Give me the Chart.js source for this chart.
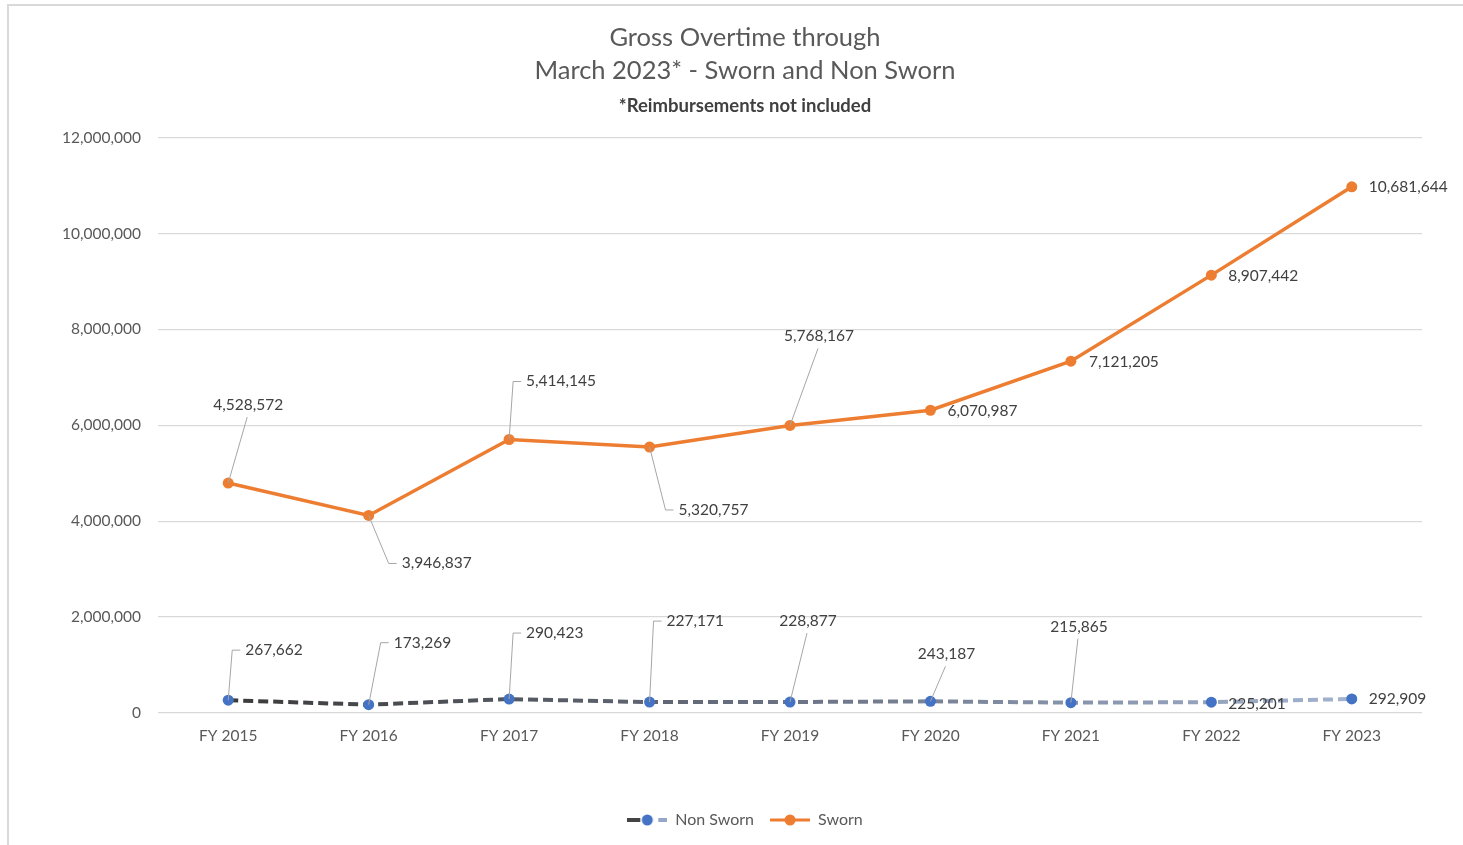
<!DOCTYPE html>
<html>
<head>
<meta charset="utf-8">
<title>Gross Overtime through March 2023</title>
<script src="https://cdn.jsdelivr.net/npm/chart.js@4"></script>
<style>
  html, body { margin: 0; padding: 0; background: #fff; overflow: hidden; }
  #frame {
    position: absolute; left: 7px; top: 4px; width: 1470px; height: 860px;
    border-left: 2px solid #d9d9d9; border-top: 2px solid #d9d9d9;
  }
  #wrap { position: absolute; left: 8px; top: 5px; width: 1474px; height: 840px; }
</style>
</head>
<body>
<div id="frame"></div>
<div id="wrap"><canvas id="overtime"></canvas></div>
<script>
// DATA
var years = ['FY 2015', 'FY 2016', 'FY 2017', 'FY 2018', 'FY 2019', 'FY 2020', 'FY 2021', 'FY 2022', 'FY 2023'];
var nonSworn = [267662, 173269, 290423, 227171, 228877, 243187, 215865, 225201, 292909];
var sworn = [4528572, 3946837, 5414145, 5320757, 5768167, 6070987, 7121205, 8907442, 10681644];
var yTicks = [0, 2000000, 4000000, 6000000, 8000000, 10000000, 12000000];

// label placement, pixels from the point: [dx, dy, align, leader]
var nonSwornLabelPos = [
    [17, -50, 'left', 'elbow'], [25, -62, 'left', 'elbow'], [17, -66, 'left', 'elbow'],
    [17, -81, 'left', 'elbow'], [18, -81, 'center', 'stem'], [16, -47, 'center', 'stem'],
    [8, -76, 'center', 'stem'], [17, 2, 'left', ''], [17, 0, 'left', '']
];
var swornLabelPos = [
    [20, -78, 'center', 'stem'], [33, 48, 'left', 'elbow'], [17, -58, 'left', 'elbow'],
    [29, 63, 'left', 'elbow'], [29, -89, 'center', 'stem'], [17, 1, 'left', ''],
    [18, 1, 'left', ''], [17, 1, 'left', ''], [17, 0, 'left', '']
];

var FONT = 'Lato, "Open Sans", sans-serif';
var fmt = function (v) { return Number(v).toLocaleString('en-US'); };

function nonSwornStroke(c) {
    var area = c.chart.chartArea;
    if (!area) return '#404040';
    var g = c.chart.ctx.createLinearGradient(area.left + 70, 0, area.right - 70, 0);
    g.addColorStop(0, '#3b3b3b');
    g.addColorStop(0.5, '#6b7384');
    g.addColorStop(1, '#a3b3d0');
    return g;
}

// legend swatches
function swatch(kind) {
    var c = document.createElement('canvas');
    c.width = 40; c.height = 12;
    var x = c.getContext('2d');
    x.lineWidth = 4;
    if (kind === 'dash') {
        x.strokeStyle = '#444';
        x.beginPath(); x.moveTo(0, 6); x.lineTo(13, 6); x.stroke();
        x.strokeStyle = '#95a6c6';
        x.beginPath(); x.moveTo(31, 6); x.lineTo(40, 6); x.stroke();
        x.fillStyle = '#4472c4';
    } else {
        x.lineWidth = 3;
        x.strokeStyle = '#ed7d31';
        x.beginPath(); x.moveTo(0, 6); x.lineTo(40, 6); x.stroke();
        x.fillStyle = '#ed7d31';
    }
    x.beginPath(); x.arc(20, 6, 5.5, 0, Math.PI * 2); x.fill();
    return c;
}
var swatches = [swatch('dash'), swatch('solid')];

// DATA LABELS WITH LEADER LINES
var labelPlugin = {
    id: 'pointLabels',
    afterDatasetsDraw: function (chart) {
        var ctx = chart.ctx;
        var places = [nonSwornLabelPos, swornLabelPos];
        ctx.save();
        ctx.font = '15.5px ' + FONT;
        ctx.textBaseline = 'middle';
        chart.data.datasets.forEach(function (ds, i) {
            var meta = chart.getDatasetMeta(i);
            meta.data.forEach(function (pt, j) {
                var p = places[i][j];
                var lx = pt.x + p[0], ly = pt.y + p[1];
                ctx.strokeStyle = '#a6a6a6';
                ctx.lineWidth = 1;
                if (p[3] === 'elbow') {
                    ctx.beginPath();
                    ctx.moveTo(pt.x, pt.y);
                    ctx.lineTo(Math.max(pt.x, lx - 13), ly);
                    ctx.lineTo(lx - 5, ly);
                    ctx.stroke();
                } else if (p[3] === 'stem') {
                    ctx.beginPath();
                    ctx.moveTo(pt.x, pt.y);
                    ctx.lineTo(lx - 1, ly + (p[1] < 0 ? 12 : -12));
                    ctx.stroke();
                }
                ctx.fillStyle = '#404040';
                ctx.textAlign = p[2];
                ctx.fillText(fmt(ds.data[j]), lx, ly);
            });
        });
        ctx.restore();
    }
};

var ctx = document.getElementById('overtime');
var chart = new Chart(ctx, {
    type: 'line',
    data: {
        labels: years,
        datasets: [{
            label: 'Non Sworn',
            data: nonSworn,
            borderColor: nonSwornStroke,
            borderWidth: 4,
            borderDash: [10, 5],
            pointRadius: 5.5,
            pointBackgroundColor: '#4472c4',
            pointBorderColor: '#4472c4',
            pointBorderWidth: 0,
            tension: 0,
            fill: false
        }, {
            label: 'Sworn',
            data: sworn,
            borderColor: '#ed7d31',
            borderWidth: 3.5,
            pointRadius: 5.5,
            pointBackgroundColor: '#ed7d31',
            pointBorderColor: '#ed7d31',
            pointBorderWidth: 0,
            tension: 0,
            fill: false
        }]
    },
    options: {
        responsive: true,
        maintainAspectRatio: false,
        animation: false,
        layout: { padding: { left: 0, right: 0, top: 0, bottom: 7 } },
        plugins: {
            title: {
                display: true,
                text: ['Gross Overtime through', 'March 2023* - Sworn and Non Sworn'],
                color: '#595959',
                font: { family: FONT, size: 25.5, weight: 'normal', lineHeight: 1.3 },
                padding: { top: 16, bottom: 9 }
            },
            subtitle: {
                display: true,
                text: '*Reimbursements not included',
                color: '#404040',
                font: { family: FONT, size: 18.5, weight: 'bold', lineHeight: 1.1 },
                padding: { top: 0, bottom: 21 }
            },
            legend: {
                position: 'bottom',
                labels: {
                    usePointStyle: true,
                    pointStyleWidth: 40,
                    boxHeight: 12,
                    padding: 16,
                    color: '#595959',
                    font: { family: FONT, size: 16 },
                    generateLabels: function (ch) {
                        var items = Chart.defaults.plugins.legend.labels.generateLabels(ch);
                        items.forEach(function (it, k) { it.pointStyle = swatches[k]; });
                        return items;
                    }
                }
            },
            tooltip: { enabled: false }
        },
        scales: {
            x: {
                offset: true,
                grid: { display: false },
                border: { display: false },
                ticks: { color: '#595959', font: { family: FONT, size: 15.5 }, padding: 6 },
                afterFit: function (s) { s.height = 83; }
            },
            y: {
                stacked: true,
                min: yTicks[0],
                max: yTicks[yTicks.length - 1],
                afterBuildTicks: function (s) { s.ticks = yTicks.map(function (v) { return { value: v }; }); },
                grid: { color: '#d9d9d9', lineWidth: 1.3, drawTicks: false },
                border: { display: false },
                ticks: {
                    color: '#595959',
                    font: { family: FONT, size: 15.5 },
                    padding: 17,
                    callback: function (v) { return fmt(v); }
                },
                afterFit: function (s) { s.width = 150; }
            },
            // empty right-hand gutter so title and legend centre like the original
            gutter: {
                position: 'right',
                min: 0,
                max: 1,
                grid: { display: false },
                border: { display: false },
                ticks: { display: false },
                afterFit: function (s) { s.width = 60; }
            }
        }
    },
    plugins: [labelPlugin]
});
</script>
</body>
</html>
